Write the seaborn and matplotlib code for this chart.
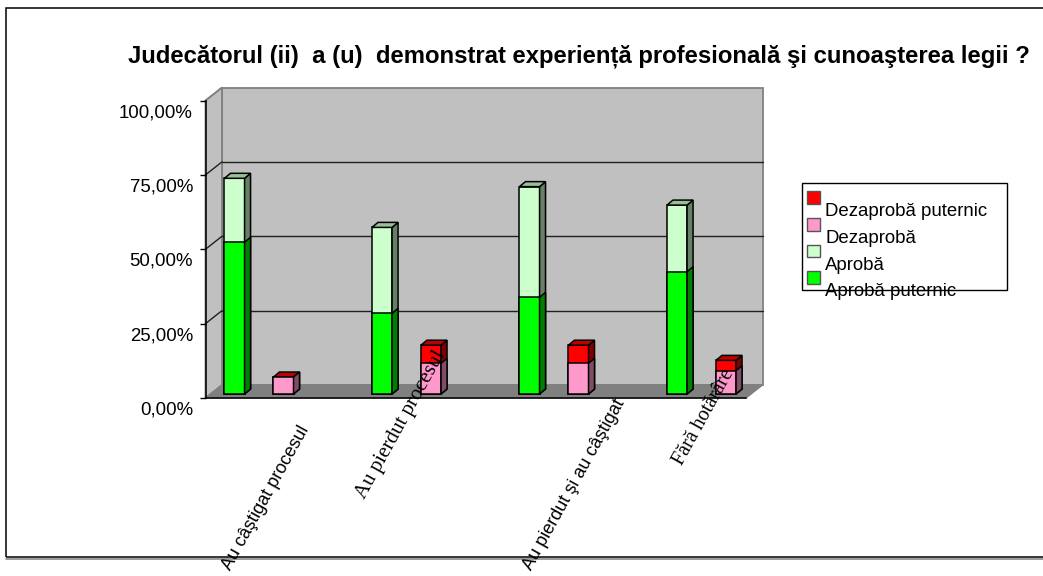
import numpy as np
import pandas as pd
import matplotlib
matplotlib.use("Agg")
import matplotlib.pyplot as plt
import seaborn as sns
from matplotlib.patches import Polygon, Rectangle, Patch
from matplotlib.lines import Line2D
from matplotlib.transforms import Affine2D, IdentityTransform, ScaledTranslation

categories = ["Au câştigat procesul", "Au pierdut procesul",
              "Au pierdut şi au câştigat", "Fără hotărâre"]
aproba_puternic = [51.0, 27.1, 32.5, 41.1]
aproba = [21.5, 28.9, 37.2, 22.4]
dezaproba = [5.7, 10.3, 10.3, 7.8]
dezaproba_puternic = [0.0, 6.1, 6.1, 3.5]
title = "Judecătorul (ii)  a (u)  demonstrat experiență profesională şi cunoaşterea legii ?"
yticks = [0, 25, 50, 75, 100]
yticklabels = ["0,00%", "25,00%", "50,00%", "75,00%", "100,00%"]
series_names = ["Dezaprobă puternic", "Dezaprobă", "Aprobă", "Aprobă puternic"]

W, H = 1043, 576
sns.set_style("white")
plt.rcParams["font.family"] = ["Liberation Sans", "DejaVu Sans"]
plt.rcParams["text.color"] = "black"
fig = plt.figure(figsize=(W / 100, H / 100), dpi=100, facecolor="white")

# front plane of the pseudo-3D box, in pixels
L, R, B, T = 205.5, 746.0, 398.0, 100.5
ax = fig.add_axes([L / W, 1 - B / H, (R - L) / W, (B - T) / H])
ax.patch.set_visible(False)

sides = ["approve", "disapprove"]
green, lgreen, pink, red = "#00FF00", "#CCFFCC", "#FF99CC", "#FF0000"
a1 = np.array(aproba_puternic)
a2 = a1 + np.array(aproba)
d1 = np.array(dezaproba)
d2 = d1 + np.array(dezaproba_puternic)
layers = [(a2, "approve", lgreen, True), (a1, "approve", green, False),
          (d2, "disapprove", red, True), (d1, "disapprove", pink, False)]

px2 = IdentityTransform()
BAR_DX, BAR_DY = 5.3, 4.0      # bars sit a little behind the front plane
DX, DY = 6.0, 5.0              # bar depth
BACK_DX, BACK_DY = 16.5, 13.0  # back wall depth

GROUP_PX = 147.5
X0_PX = 259.0 - BAR_DX
xlim = (-(X0_PX - L) / GROUP_PX, (R - X0_PX) / GROUP_PX)
LW = 1.1


def darken(c, f):
    rgb = np.array(matplotlib.colors.to_rgb(c)) * f
    return tuple(rgb)


for vals, side, col, has_top in layers:
    df = pd.DataFrame({"cat": categories, "v": vals, "side": side})
    n0 = len(ax.patches)
    sns.barplot(data=df, x="cat", y="v", hue="side", hue_order=sides, order=categories,
                palette={s: col for s in sides}, dodge=True, width=0.664, gap=0.59,
                saturation=1, errorbar=None, legend=False, edgecolor="black",
                linewidth=LW, zorder=2, ax=ax)
    ax.set_xlim(*xlim)
    ax.set_ylim(0, 100)
    shift = Affine2D().translate(BAR_DX, BAR_DY)
    for p in ax.patches[n0:]:
        p.set_clip_on(False)
        bb = p.get_bbox().transformed(ax.transData)
        x0, x1, y0, y1 = bb.x0 + BAR_DX, bb.x1 + BAR_DX, bb.y0 + BAR_DY, bb.y1 + BAR_DY
        p.set_transform(ax.transData + shift)
        ax.add_patch(Polygon([(x1, y0), (x1 + DX, y0 + DY), (x1 + DX, y1 + DY), (x1, y1)],
                             closed=True, transform=px2, facecolor=darken(col, 0.5),
                             edgecolor="black", lw=LW, zorder=2, clip_on=False))
        if has_top:
            ax.add_patch(Polygon([(x0, y1), (x0 + DX, y1 + DY), (x1 + DX, y1 + DY), (x1, y1)],
                                 closed=True, transform=px2, facecolor=darken(col, 0.75),
                                 edgecolor="black", lw=LW, zorder=2, clip_on=False))

# walls and floor
toD = ax.transData.transform
(lx, by), (rx, ty) = toD((xlim[0], 0)), toD((xlim[1], 100))
bdx, bdy = BACK_DX, BACK_DY
gray = "#C0C0C0"
edge = "#808080"
ax.add_patch(Polygon([(lx + bdx, by + bdy), (rx + bdx, by + bdy), (rx + bdx, ty + bdy), (lx + bdx, ty + bdy)],
                     transform=px2, fc=gray, ec=edge, lw=1.3, zorder=0.5, clip_on=False))
ax.add_patch(Polygon([(lx, by), (lx + bdx, by + bdy), (lx + bdx, ty + bdy), (lx, ty)],
                     transform=px2, fc=gray, ec=edge, lw=1.3, zorder=0.5, clip_on=False))
ax.add_patch(Polygon([(lx, by), (rx, by), (rx + bdx, by + bdy), (lx + bdx, by + bdy)],
                     transform=px2, fc=edge, ec=edge, lw=1.0, zorder=0.6, clip_on=False))
for t in yticks[1:]:
    _, yy = toD((0, t))
    c = "#202020"
    if t < 100:
        ax.add_line(Line2D([lx + bdx, rx + bdx], [yy + bdy, yy + bdy], transform=px2,
                           color=c, lw=1.0, zorder=0.7, clip_on=False))
    ax.add_line(Line2D([lx, lx + bdx], [yy, yy + bdy], transform=px2,
                       color=c if t < 100 else edge, lw=1.0, zorder=0.7, clip_on=False))

# axes
for s in ["top", "right"]:
    ax.spines[s].set_visible(False)
for s in ["left", "bottom"]:
    ax.spines[s].set_visible(True)
    ax.spines[s].set_color("black")
    ax.spines[s].set_linewidth(1.1)
ax.set_xlabel("")
ax.set_ylabel("")
ax.set_axisbelow(False)
ax.set_yticks(yticks)
ax.set_yticklabels(yticklabels, fontsize=13.4, color="black")
ax.tick_params(axis="y", length=4, width=1, color="black", pad=5, left=True)
ax.set_xticks(range(len(categories)))
ax.set_xticklabels([])
ax.tick_params(axis="x", length=0, bottom=False)
ylab_shift = ScaledTranslation(0, -0.10, fig.dpi_scale_trans)
for lab in ax.get_yticklabels():
    lab.set_transform(lab.get_transform() + ylab_shift)

# category labels: rotated, anchored at their top-right end
ends = [(305, 427), (441, 352), (621, 400), (730, 371)]
fams = ["Liberation Sans", "Liberation Serif", "Liberation Sans", "Liberation Serif"]
sizes = [13.0, 15.0, 13.0, 14.5]
for i, cat in enumerate(categories):
    px, py = toD((i, 0))
    off = Affine2D().translate(ends[i][0] - px, (H - ends[i][1]) - py)
    ax.text(i, 0, cat, transform=ax.transData + off, rotation=61, ha="right", va="center",
            rotation_mode="anchor", fontfamily=fams[i], fontsize=sizes[i],
            color="black", clip_on=False, zorder=5)

# legend
cols = [red, pink, lgreen, green]
handles = [Patch(facecolor=c, edgecolor="#555555", lw=1.0) for c in cols]
leg = fig.legend(handles, series_names, loc="upper left",
                 bbox_to_anchor=(802 / W, 1 - 183 / H, 205 / W, 0), mode="expand", borderaxespad=0,
                 fontsize=13.4, frameon=True, fancybox=False, edgecolor="black", framealpha=1,
                 handlelength=0.67, handleheight=0.67, handletextpad=0.32, labelspacing=0.525,
                 borderpad=0.25, labelcolor="black")
leg.get_frame().set_linewidth(1.0)
for t in leg.get_texts():
    t.set_y(-15.5)
for h in leg.legend_handles:
    h.set_y(h.get_y() - 2.4)
    h.set_x(h.get_x() + 0.5)

# outer frame with its grey shadow, and title
fig.add_artist(Line2D([6 / W, 1.05], [1 - 559 / H] * 2, transform=fig.transFigure, color="#808080", lw=1.1, zorder=-2))
fig.add_artist(Rectangle((6 / W, 1 - 557 / H), 1100 / W, 549 / H, transform=fig.transFigure,
                         fill=False, ec="black", lw=1.1, zorder=-1))
fig.text(128 / W, 1 - 56 / H, title, fontsize=17.2, fontweight="bold", va="center", ha="left", color="black")

fig.savefig("out.png", dpi=100)
